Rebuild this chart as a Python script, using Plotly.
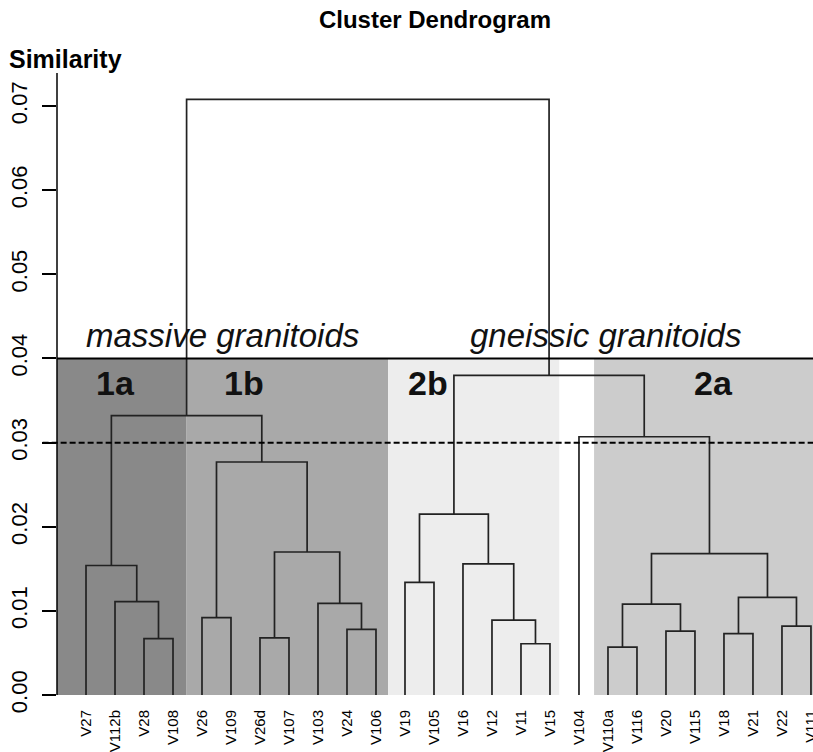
import plotly.graph_objects as go

# ---------------- data ----------------
leaves = ["V27", "V112b", "V28", "V108", "V26", "V109", "V26d", "V107", "V103",
          "V24", "V106", "V19", "V105", "V16", "V12", "V11", "V15", "V104",
          "V110a", "V116", "V20", "V115", "V18", "V21", "V22", "V111"]

# hclust-style merge table: negative = leaf (1-based position), positive = earlier merge
merge_a = [-3, -2, -1, -5, -7, -10, -9, 5, 4, 3,
           -12, -16, -15, -14, 11, -19, -21, 16, -23, -25, 19, 18, -18, 15, 10]
merge_b = [-4, 1, 2, -6, -8, -11, 6, 7, 8, 9,
           -13, -17, 12, 13, 14, -20, -22, 17, -24, -26, 20, 21, 22, 23, 24]
merge_height = [0.0067, 0.0111, 0.0154, 0.0092, 0.0068, 0.0078, 0.0109, 0.0170, 0.0277, 0.0332,
                0.0134, 0.0061, 0.0089, 0.0156, 0.0215, 0.0057, 0.0076, 0.0108, 0.0073, 0.0082,
                0.0116, 0.0168, 0.0307, 0.0380, 0.0708]

group_names = ["1a", "1b", "2b", "2a"]
group_start = [0.0, 4.47, 11.42, 18.52]
group_end = [4.47, 11.42, 17.32, 26.07]
group_colors = ["#898989", "#a9a9a9", "#ededed", "#cccccc"]
group_label_x = [2.0, 6.44, 12.8, 22.64]

cut_similarity = 0.030
group_top = 0.040
y_ticks = [0.00, 0.01, 0.02, 0.03, 0.04, 0.05, 0.06, 0.07]

XMIN, XMAX = 0.0, 26.07
YMIN, YMAX = -0.0013, 0.07393

# ---------------- dendrogram segments ----------------
node_x, node_h = {}, {}
xs, ys = [], []


def child(c):
    if c < 0:
        return float(-c), 0.0
    return node_x[c], node_h[c]


for k, (a, b, h) in enumerate(zip(merge_a, merge_b, merge_height), start=1):
    xa, ha = child(a)
    xb, hb = child(b)
    xs += [xa, xa, xb, xb, None]
    ys += [ha, h, h, hb, None]
    node_x[k] = (xa + xb) / 2
    node_h[k] = h

fig = go.Figure()

# shaded group regions
shapes = []
for x0, x1, col in zip(group_start, group_end, group_colors):
    shapes.append(dict(type="rect", xref="x", yref="y", x0=x0, x1=x1, y0=0, y1=group_top,
                       fillcolor=col, line=dict(width=0), layer="below"))

fig.add_trace(go.Scatter(x=xs, y=ys, mode="lines",
                         line=dict(color="#222222", width=1.7),
                         hoverinfo="skip", showlegend=False))

# group top line, cut line, y axis line
shapes.append(dict(type="line", xref="paper", yref="y", x0=0, x1=1, y0=group_top, y1=group_top,
                   line=dict(color="black", width=2.2), layer="above"))
shapes.append(dict(type="line", xref="paper", yref="y", x0=-0.019, x1=1, y0=cut_similarity,
                   y1=cut_similarity, line=dict(color="black", width=2, dash="6px,3px"),
                   layer="above"))
shapes.append(dict(type="line", xref="paper", yref="y", x0=0, x1=0, y0=0, y1=YMAX,
                   line=dict(color="black", width=1.5), layer="above"))

annotations = []
for name, gx in zip(group_names, group_label_x):
    annotations.append(dict(x=gx, y=0.0371, xref="x", yref="y", text="<b>%s</b>" % name,
                            showarrow=False, font=dict(family="Liberation Sans", size=34,
                                                       color="#111111"),
                            xanchor="center", yanchor="middle"))
annotations.append(dict(x=5.72, y=0.0403, xref="x", yref="y", text="<i>massive granitoids</i>",
                        showarrow=False, font=dict(family="Liberation Sans", size=33,
                                                   color="#111111"),
                        xanchor="center", yanchor="bottom"))
annotations.append(dict(x=18.93, y=0.0403, xref="x", yref="y", text="<i>gneissic granitoids</i>",
                        showarrow=False, font=dict(family="Liberation Sans", size=33,
                                                   color="#111111"),
                        xanchor="center", yanchor="bottom"))
annotations.append(dict(x=-0.066, y=1.0, xref="paper", yref="paper", text="<b>Similarity</b>",
                        showarrow=False, xanchor="left", yanchor="bottom", yshift=-2,
                        font=dict(family="Liberation Sans", size=25, color="black")))

fig.update_layout(
    width=813, height=752,
    margin=dict(l=57, r=0, t=73, b=46),
    paper_bgcolor="white", plot_bgcolor="white",
    shapes=shapes, annotations=annotations,
    title=dict(text="<b>Cluster Dendrogram</b>", x=0.535, xanchor="center", y=0.974,
               yanchor="middle", font=dict(family="Liberation Sans", size=24, color="black")),
    font=dict(family="Liberation Sans", color="black"),
)

fig.update_xaxes(range=[XMIN, XMAX], tickvals=list(range(1, len(leaves) + 1)), ticktext=leaves,
                 tickangle=-90, ticks="", showgrid=False, zeroline=False, showline=False,
                 ticklabeloverflow="allow",
                 tickfont=dict(family="Liberation Sans", size=15, color="black"),
                 automargin=False, fixedrange=True)
fig.update_yaxes(range=[YMIN, YMAX], tickvals=y_ticks, tickformat=".2f", tickangle=-90,
                 ticks="outside", ticklen=14, tickwidth=1.5, tickcolor="black",
                 ticklabelstandoff=6,
                 showgrid=False, zeroline=False, showline=False,
                 tickfont=dict(family="Liberation Sans", size=22, color="black"),
                 automargin=False, fixedrange=True)

fig.write_html("out.html")
